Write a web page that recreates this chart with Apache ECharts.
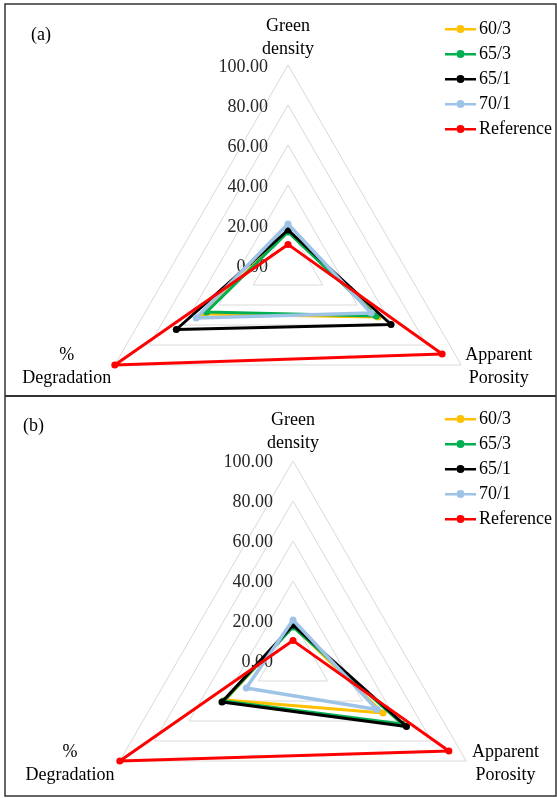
<!DOCTYPE html>
<html>
<head>
<meta charset="utf-8">
<script src="https://cdn.jsdelivr.net/npm/echarts@6/dist/echarts.min.js"></script>
<style>
html,body{margin:0;padding:0;background:#fff;}
#chart{width:557px;height:798px;}
</style>
</head>
<body>
<div id="chart"></div>
<script>
// Indicators in ECharts (counter-clockwise) order: top, bottom-left, bottom-right
const indicators = ['Green density', '% Degradation', 'Apparent Porosity'];
const seriesNames = ['60/3', '65/3', '65/1', '70/1', 'Reference'];
const panelLabels = ['(a)', '(b)'];
const tickMin = 0, tickMax = 100, tickStep = 20;

// Panel (a) values [Green density, % Degradation, Apparent Porosity]
const a_60_3 = [16.8, 49, 52];
const a_65_3 = [16.5, 47, 51];
const a_65_1 = [17.5, 64.5, 59.5];
const a_70_1 = [20.5, 53, 48];
const a_ref  = [10.3, 100, 89];

// Panel (b) values
const b_60_3 = [17.5, 39, 52];
const b_65_3 = [17, 40, 63];
const b_65_1 = [18, 41, 65.5];
const b_70_1 = [20.5, 27, 48.5];
const b_ref  = [10.2, 100, 90];

const panelA = [a_60_3, a_65_3, a_65_1, a_70_1, a_ref];
const panelB = [b_60_3, b_65_3, b_65_1, b_70_1, b_ref];

const seriesColors = ['#FFC000', '#00B050', '#000000', '#9DC3E6', '#FF0000'];
const FONT = 'Liberation Serif';

const legendIcon = 'path://M0,4 L11.5,4 L11.5,6.4 L0,6.4 Z M19.5,4 L31,4 L31,6.4 L19.5,6.4 Z M11.5,5 A4,4 0 1,1 19.5,5 A4,4 0 1,1 11.5,5 Z';

const nameKey = ['g', 'd', 'p'];
function radarCfg(cx, cy, gap) {
  return {
    center: [cx, cy],
    radius: 200,
    startAngle: 90,
    shape: 'polygon',
    splitNumber: 5,
    axisNameGap: gap,
    indicator: indicators.map(n => ({ name: n, min: tickMin, max: tickMax })),
    axisName: {
      color: '#000',
      fontFamily: FONT,
      fontSize: 18,
      formatter: function (name) {
        const i = name.indexOf(' ');
        const k = nameKey[indicators.indexOf(name)];
        return '{' + k + '|' + name.slice(0, i) + '}\n{' + k + '|' + name.slice(i + 1) + '}';
      },
      rich: {
        g: { width: 80, align: 'center', lineHeight: 23, fontSize: 18, fontFamily: FONT, color: '#000' },
        d: { width: 89, align: 'center', lineHeight: 23, fontSize: 18, fontFamily: FONT, color: '#000' },
        p: { width: 68, align: 'center', lineHeight: 23, fontSize: 18, fontFamily: FONT, color: '#000' }
      }
    },
    splitLine: { lineStyle: { color: '#d9d9d9', width: 1 } },
    splitArea: { show: false },
    axisLine: { show: false },
    axisTick: { show: false },
    axisLabel: { show: false }
  };
}

function gridCfg(left, top) {
  return { left: left, top: top, width: 1, height: 200 };
}

function yAxisCfg(gi) {
  return {
    type: 'value', gridIndex: gi, min: tickMin, max: tickMax, interval: tickStep,
    position: 'left',
    axisLine: { show: false }, axisTick: { show: false }, splitLine: { show: false },
    axisLabel: {
      margin: 20, color: '#262626', fontFamily: FONT, fontSize: 18,
      formatter: v => v.toFixed(2)
    }
  };
}
function xAxisCfg(gi) {
  return { type: 'value', gridIndex: gi, show: false, min: 0, max: 1 };
}

const series = [];
[panelA, panelB].forEach((panel, ri) => {
  panel.forEach((vals, si) => {
    series.push({
      type: 'radar',
      radarIndex: ri,
      name: seriesNames[si],
      symbol: 'circle',
      symbolSize: 7,
      z: 2 + si,
      itemStyle: { color: seriesColors[si] },
      lineStyle: { color: seriesColors[si], width: si === 3 ? 3.5 : 3 },
      data: [{ value: vals, name: seriesNames[si] }]
    });
  });
});

function legendCfg(top) {
  return {
    orient: 'vertical',
    left: 440,
    top: top,
    data: seriesNames,
    icon: legendIcon,
    itemWidth: 31,
    itemHeight: 8,
    itemGap: 7,
    textStyle: { fontFamily: FONT, fontSize: 18, color: '#000', padding: [0, 0, 0, -2] }
  };
}

const chart = echarts.init(document.getElementById('chart'), null, { renderer: 'canvas' });
chart.setOption({
  animation: false,
  backgroundColor: '#fff',
  radar: [radarCfg(288, 265, 4), radarCfg(293, 661, 6)],
  grid: [gridCfg(288, 67), gridCfg(293, 462)],
  xAxis: [xAxisCfg(0), xAxisCfg(1)],
  yAxis: [yAxisCfg(0), yAxisCfg(1)],
  legend: [legendCfg(15), legendCfg(405)],
  graphic: [
    { type: 'rect', shape: { x: 5, y: 4, width: 551, height: 792 }, style: { fill: 'none', stroke: '#333', lineWidth: 1.5 }, silent: true },
    { type: 'line', shape: { x1: 5, y1: 396, x2: 556, y2: 396 }, style: { stroke: '#333', lineWidth: 2 }, silent: true },
    { type: 'text', left: 31, top: 26, style: { text: panelLabels[0], fontFamily: FONT, fontSize: 18, fill: '#000' } },
    { type: 'text', left: 23, top: 417, style: { text: panelLabels[1], fontFamily: FONT, fontSize: 18, fill: '#000' } }
  ],
  series: series
});
</script>
</body>
</html>
